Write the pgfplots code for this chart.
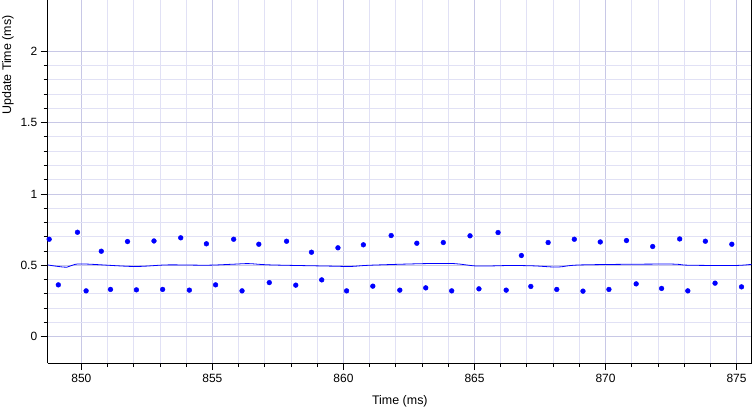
\documentclass[border=0pt]{standalone}
\usepackage{pgfplots}
\pgfplotsset{compat=1.18}
\usepackage{fontspec}
\setmainfont{Liberation Sans}
\definecolor{gridmaj}{RGB}{200,200,230}
\definecolor{gridmin}{RGB}{225,225,245}
\begin{document}
\begin{tikzpicture}
\begin{axis}[
  scale only axis, width=704bp, height=363bp,
  xmin=848.715, xmax=875.59, ymin=-0.187, ymax=2.36,
  xtick={850,855,...,875}, ytick={0,0.5,1,1.5,2},
  minor x tick num=4, minor y tick num=4,
  grid=both,
  major grid style={gridmaj, line width=0.8bp},
  minor grid style={gridmin, line width=0.8bp},
  axis x line*=bottom, axis y line*=left,
  tick align=outside,
  major tick length=7bp, minor tick length=4bp,
  tick style={black, line width=0.8bp},
  axis line style={black, line width=0.8bp},
  /pgf/number format/assume math mode=true,
  ticklabel style={font=\fontsize{12}{14}\selectfont},
  label style={font=\fontsize{12.5}{15}\selectfont},
  xlabel={Time (ms)},
  xlabel style={yshift=-6bp},
  ylabel={Update Time (ms)},
  ylabel style={at={(ticklabel cs:0.821)}},
]
\draw[black, line width=2.6bp] (rel axis cs:1,0) -- (rel axis cs:1,1);
\addplot[only marks, mark=*, mark size=2.4bp, blue, mark options={draw=blue, fill=blue}] coordinates {
(848.77,0.682) (849.85,0.731) (850.76,0.598) (851.76,0.666) (852.77,0.670)
(853.79,0.692) (854.77,0.650) (855.81,0.682) (856.77,0.647) (857.83,0.668)
(858.78,0.591) (859.79,0.622) (860.76,0.643) (861.82,0.708) (862.80,0.654)
(863.81,0.659) (864.83,0.706) (865.90,0.729) (866.79,0.568) (867.81,0.659)
(868.81,0.682) (869.80,0.663) (870.80,0.673) (871.80,0.631) (872.83,0.684)
(873.81,0.668) (874.82,0.647)
(849.12,0.362) (850.18,0.320) (851.11,0.330) (852.10,0.327) (853.10,0.330)
(854.12,0.325) (855.12,0.362) (856.13,0.320) (857.17,0.378) (858.18,0.360)
(859.17,0.397) (860.12,0.320) (861.12,0.353) (862.15,0.325) (863.14,0.341)
(864.13,0.320) (865.17,0.334) (866.21,0.325) (867.15,0.351) (868.14,0.330)
(869.14,0.318) (870.13,0.330) (871.17,0.369) (872.14,0.337) (873.14,0.320)
(874.18,0.374) (875.19,0.348)
};
\addplot[blue, line width=0.8bp, smooth, no marks] coordinates {
(848.71,0.502) (849.44,0.486) (849.95,0.509) (851.99,0.491) (853.27,0.502)
(854.80,0.500) (855.81,0.507) (856.39,0.511) (857.22,0.502) (859.64,0.493)
(860.28,0.491) (861.04,0.500) (863.08,0.511) (864.23,0.511) (865.12,0.494)
(866.39,0.498) (867.29,0.495) (868.18,0.487) (869.07,0.502) (872.39,0.508)
(873.15,0.500) (874.93,0.498) (875.57,0.506)
};
\end{axis}
\pgfresetboundingbox
\path (current axis.south west) ++(-47.7bp,-44.7bp) rectangle (current axis.north east);
\end{tikzpicture}
\end{document}
